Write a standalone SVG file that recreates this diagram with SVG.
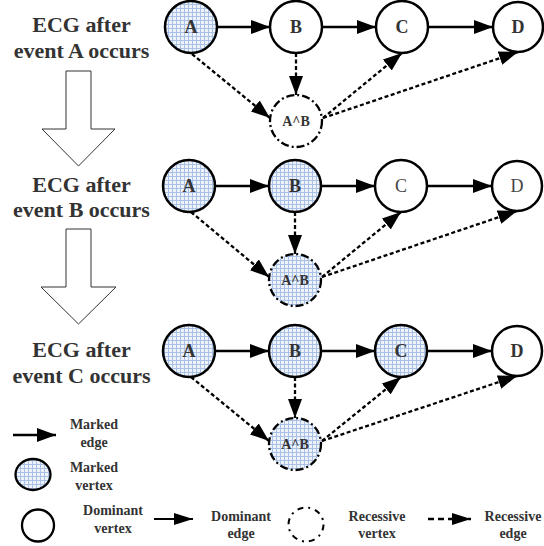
<svg xmlns="http://www.w3.org/2000/svg" width="544" height="546" viewBox="0 0 544 546">
<defs>
<pattern id="grid" width="4" height="4" patternUnits="userSpaceOnUse">
<rect width="4" height="4" fill="#edf2fb"/>
<path d="M0 0.5H4M0.5 0V4" stroke="#a9c1e6" stroke-width="1" fill="none"/>
</pattern>
<marker id="ah" markerUnits="userSpaceOnUse" markerWidth="20" markerHeight="14" refX="19" refY="7" orient="auto">
<path d="M0 0L19 7L0 14Z" fill="#000"/>
</marker>
<marker id="ahs" markerUnits="userSpaceOnUse" markerWidth="20" markerHeight="14" refX="19" refY="7" orient="auto">
<path d="M0 1L19 7L0 13Z" fill="#000"/>
</marker>
</defs>
<style>
.n{stroke:#000;stroke-width:2.5;fill:#fff}
.m{stroke:#000;stroke-width:2.5;fill:url(#grid)}
.r{stroke:#000;stroke-width:2.3;stroke-dasharray:8 3 2 3;fill:#fff}
.rm{stroke:#000;stroke-width:2.3;stroke-dasharray:8 3 2 3;fill:url(#grid)}
.lb{font-family:"Liberation Serif",serif;font-weight:bold;font-size:18px;fill:#333;text-anchor:middle}
.ln{font-family:"Liberation Serif",serif;font-size:18px;fill:#444;text-anchor:middle}
.lab{font-family:"Liberation Serif",serif;font-weight:bold;font-size:14px;fill:#333;text-anchor:middle}
.t{font-family:"Liberation Serif",serif;font-weight:bold;font-size:22px;fill:#333;text-anchor:middle}
.lg{font-family:"Liberation Serif",serif;font-weight:bold;font-size:14px;fill:#333;text-anchor:middle}
.e{stroke:#000;stroke-width:2.3;fill:none;marker-end:url(#ah)}
.d{stroke:#000;stroke-width:2.3;fill:none;stroke-dasharray:4 2.5;marker-end:url(#ah)}
.ha{fill:#fff;stroke:#333;stroke-width:1}
</style>

<g id="titles">
<text class="t" x="81.5" y="32">ECG after</text>
<text class="t" x="81.5" y="58">event A occurs</text>
<text class="t" x="81.5" y="192">ECG after</text>
<text class="t" x="81.5" y="217">event B occurs</text>
<text class="t" x="81.5" y="357">ECG after</text>
<text class="t" x="81.5" y="383">event C occurs</text>
</g>
<g id="hollow-arrows">
<polygon class="ha" points="66,71 91,71 91,129 115,129 78.5,166 42,129 66,129"/>
<polygon class="ha" points="66,229 91,229 91,287 116,287 78.5,324 41,287 66,287"/>
</g>

<g id="connectors">
<line class="e" x1="217" y1="27" x2="270" y2="27"/>
<line class="e" x1="322" y1="27" x2="376" y2="27"/>
<line class="e" x1="428" y1="27" x2="493" y2="27"/>
<line class="d" x1="192" y1="54" x2="270" y2="118"/>
<line class="d" x1="296" y1="53" x2="296" y2="95"/>
<line class="d" x1="323" y1="118" x2="402" y2="53"/>
<line class="d" x1="323" y1="118" x2="518" y2="52"/>

<line class="e" x1="215" y1="186" x2="269" y2="186"/>
<line class="e" x1="321" y1="186" x2="375" y2="186"/>
<line class="e" x1="427" y1="186" x2="492" y2="186"/>
<line class="d" x1="191" y1="212" x2="269" y2="277"/>
<line class="d" x1="295" y1="212" x2="295" y2="254"/>
<line class="d" x1="322" y1="277" x2="401" y2="212"/>
<line class="d" x1="322" y1="277" x2="517" y2="211"/>

<line class="e" x1="215" y1="351" x2="269" y2="351"/>
<line class="e" x1="321" y1="351" x2="375" y2="351"/>
<line class="e" x1="427" y1="351" x2="492" y2="351"/>
<line class="d" x1="191" y1="377" x2="269" y2="441"/>
<line class="d" x1="295" y1="377" x2="295" y2="418"/>
<line class="d" x1="322" y1="441" x2="401" y2="377"/>
<line class="d" x1="322" y1="441" x2="517" y2="376"/>
</g>

<g id="r1-A"><circle class="m" cx="191" cy="27" r="26"/><text class="lb" x="191" y="33">A</text></g>
<g id="r1-B"><circle class="n" cx="296" cy="27" r="26"/><text class="lb" x="296" y="33">B</text></g>
<g id="r1-C"><circle class="n" cx="402" cy="27" r="26"/><text class="lb" x="402" y="33">C</text></g>
<g id="r1-D"><circle class="n" cx="518" cy="27" r="25"/><text class="lb" x="518" y="33">D</text></g>
<g id="r1-AB"><circle class="r" cx="296" cy="121" r="26"/><text class="lab" x="296" y="126">A^B</text></g>

<g id="r2-A"><circle class="m" cx="189" cy="186" r="26"/><text class="lb" x="189" y="192">A</text></g>
<g id="r2-B"><circle class="m" cx="295" cy="186" r="26"/><text class="lb" x="295" y="192">B</text></g>
<g id="r2-C"><circle class="n" cx="401" cy="186" r="26"/><text class="ln" x="401" y="192">C</text></g>
<g id="r2-D"><circle class="n" cx="517" cy="186" r="25"/><text class="ln" x="517" y="192">D</text></g>
<g id="r2-AB"><circle class="rm" cx="295" cy="280" r="26"/><text class="lab" x="295" y="285">A^B</text></g>

<g id="r3-A"><circle class="m" cx="189" cy="351" r="26"/><text class="lb" x="189" y="357">A</text></g>
<g id="r3-B"><circle class="m" cx="295" cy="351" r="26"/><text class="lb" x="295" y="357">B</text></g>
<g id="r3-C"><circle class="m" cx="401" cy="351" r="26"/><text class="lb" x="401" y="357">C</text></g>
<g id="r3-D"><circle class="n" cx="517" cy="351" r="25"/><text class="lb" x="517" y="357">D</text></g>
<g id="r3-AB"><circle class="rm" cx="295" cy="444" r="26"/><text class="lab" x="295" y="449">A^B</text></g>

<g id="legend">
<line class="e" x1="13" y1="435" x2="56" y2="435"/>
<text class="lg" x="94" y="429">Marked</text>
<text class="lg" x="94" y="447">edge</text>
<ellipse cx="33" cy="474.5" rx="17.5" ry="15.5" stroke="#000" stroke-width="2.3" fill="url(#grid)"/>
<text class="lg" x="94" y="472">Marked</text>
<text class="lg" x="94" y="490">vertex</text>
<circle cx="38" cy="525.5" r="16" stroke="#000" stroke-width="2.3" fill="#fff"/>
<text class="lg" x="113" y="515">Dominant</text>
<text class="lg" x="113" y="533">vertex</text>
<line stroke="#000" stroke-width="2" marker-end="url(#ahs)" x1="154" y1="519" x2="193" y2="519"/>
<text class="lg" x="241" y="521">Dominant</text>
<text class="lg" x="241" y="538">edge</text>
<ellipse cx="306" cy="524.5" rx="17.5" ry="17" stroke="#000" stroke-width="2" stroke-dasharray="6 5 2 5" fill="#fff"/>
<text class="lg" x="377" y="521">Recessive</text>
<text class="lg" x="377" y="538">vertex</text>
<line stroke="#000" stroke-width="2.3" stroke-dasharray="6 4" marker-end="url(#ahs)" x1="428" y1="519" x2="471" y2="519"/>
<text class="lg" x="513" y="521">Recessive</text>
<text class="lg" x="513" y="538">edge</text>
</g>
</svg>
